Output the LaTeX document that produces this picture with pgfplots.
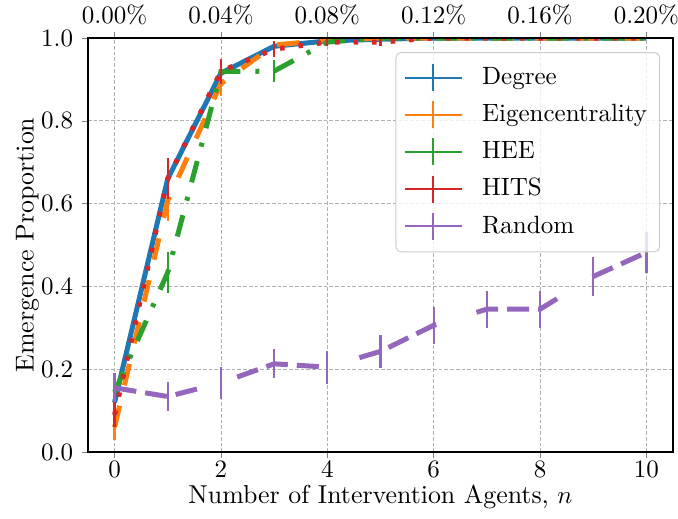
\documentclass[border=0pt]{standalone}
\usepackage{pgfplots}
\usepackage{pgfplotstable}
\pgfplotsset{compat=1.18}

\definecolor{tabblue}{HTML}{1F77B4}
\definecolor{taborange}{HTML}{FF7F0E}
\definecolor{tabgreen}{HTML}{2CA02C}
\definecolor{tabred}{HTML}{D62728}
\definecolor{tabpurple}{HTML}{9467BD}
\definecolor{gridgray}{RGB}{176,176,176}

% Mean emergence proportion and error per strategy
\pgfplotstableread{
x  deg    degerr  eig    eigerr  hee    heeerr  hits   hitserr  rnd    rnderr
0  0.120  0.030   0.060  0.030   0.145  0.030   0.090  0.030    0.155  0.035
1  0.660  0.030   0.607  0.050   0.434  0.050   0.660  0.050    0.134  0.035
2  0.915  0.020   0.890  0.030   0.919  0.030   0.920  0.030    0.167  0.038
3  0.980  0.010   0.983  0.010   0.920  0.027   0.973  0.020    0.213  0.035
4  0.993  0.005   0.995  0.005   0.990  0.010   0.990  0.010    0.205  0.040
5  0.997  0.003   1.000  0.000   1.000  0.000   0.990  0.010    0.243  0.040
6  1.000  0.000   1.000  0.000   1.000  0.000   1.000  0.000    0.306  0.045
7  1.000  0.000   1.000  0.000   1.000  0.000   1.000  0.000    0.345  0.045
8  1.000  0.000   1.000  0.000   1.000  0.000   1.000  0.000    0.345  0.045
9  1.000  0.000   1.000  0.000   1.000  0.000   1.000  0.000    0.424  0.047
10 1.000  0.000   1.000  0.000   1.000  0.000   1.000  0.000    0.482  0.050
}\datatable

\begin{document}
\begin{tikzpicture}
\begin{axis}[
  at={(0,0)}, anchor=south west,
  width=234pt, height=165.6pt, scale only axis,
  xmin=-0.5, xmax=10.5, ymin=0, ymax=1,
  xtick={0,2,4,6,8,10},
  ytick={0,0.2,0.4,0.6,0.8,1.0},
  yticklabel style={/pgf/number format/.cd, fixed, fixed zerofill, precision=1},
  xticklabel style={yshift=2.2pt},
  grid=major,
  grid style={dash pattern=on 1.5pt off 0.8pt, color=gridgray, line width=0.35pt},
  tick align=outside, xtick pos=bottom, ytick pos=left,
  major tick length=2.4pt,
  axis line style={line width=0.6pt},
  label style={font=\fontsize{10.35pt}{12.4pt}\selectfont},
  xlabel={Number of Intervention Agents, $n$},
  ylabel={Emergence Proportion},
  xlabel shift=-3.7pt,
  ylabel shift=-6pt,
  error bars/y dir=both,
  error bars/y explicit,
  error bars/error mark=none,
  error bars/error bar style={solid, line width=0.9pt},
  legend cell align=left,
  legend image code/.code={
    \draw[#1, solid, line width=0.9pt] (2pt,0pt) -- (24.8pt,0pt);
    \draw[#1, solid, line width=0.9pt] (13.4pt,-5.4pt) -- (13.4pt,5.4pt);
    \path (30pt,0pt);
  },
  legend style={at={(0.978,0.966)}, anchor=north east,
    draw=gray!40, rounded corners=2pt, fill=white, fill opacity=0.8,
    text opacity=1, font=\normalsize, row sep=2.4pt,
    inner xsep=3pt, inner ysep=4pt},
]
\addplot[tabblue, line width=2pt, solid]
  table[x=x, y=deg, y error=degerr] {\datatable};
\addlegendentry{Degree}
\addplot[taborange, line width=2pt, dash pattern=on 8.8pt off 8.4pt]
  table[x=x, y=eig, y error=eigerr] {\datatable};
\addlegendentry{Eigencentrality}
\addplot[tabgreen, line width=2pt, dash pattern=on 8.8pt off 6pt on 1.6pt off 6pt]
  table[x=x, y=hee, y error=heeerr] {\datatable};
\addlegendentry{HEE}
\addplot[tabred, line width=2pt, dash pattern=on 1.8pt off 5.6pt]
  table[x=x, y=hits, y error=hitserr] {\datatable};
\addlegendentry{HITS}
\addplot[tabpurple, line width=2pt, dash pattern=on 8.8pt off 3.6pt on 8.8pt off 3.6pt on 8.8pt off 16.8pt]
  table[x=x, y=rnd, y error=rnderr] {\datatable};
\addlegendentry{Random}
\end{axis}

% Secondary top axis: share of the population
\begin{axis}[
  at={(0,0)}, anchor=south west,
  width=234pt, height=165.6pt, scale only axis,
  xmin=-0.5, xmax=10.5, ymin=0, ymax=1,
  axis x line*=top, axis y line=none,
  tick align=outside, major tick length=2.4pt,
  axis line style={line width=0.6pt},
  xtick={0,2,4,6,8,10},
  xticklabels={0.00\%,0.04\%,0.08\%,0.12\%,0.16\%,0.20\%},
  xticklabel style={yshift=-0.6pt},
]
\addplot[draw=none] coordinates {(0,0)};
\end{axis}
\pgfresetboundingbox
\path[use as bounding box] (-35.2pt,-26.4pt) rectangle (236pt,180.8pt);
\end{tikzpicture}
\end{document}
